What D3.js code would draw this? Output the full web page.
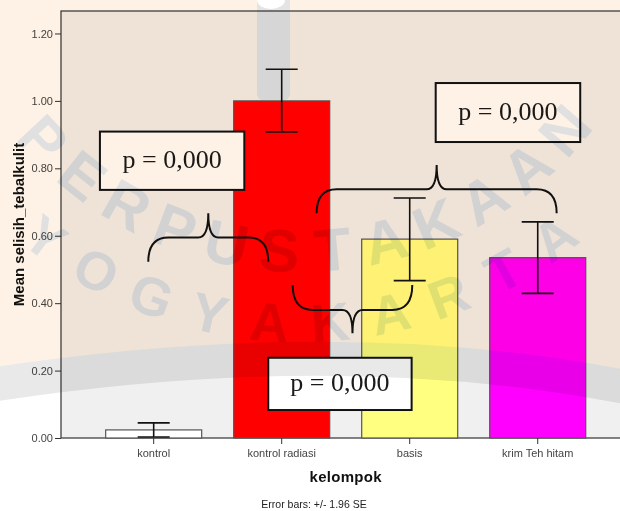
<!DOCTYPE html>
<html>
<head>
<meta charset="utf-8">
<script src="https://cdn.jsdelivr.net/npm/d3@7"></script>
<style>
  body { margin: 0; background: #fff; }
  #chart svg { display: block; }
</style>
</head>
<body>
<div id="chart"></div>
<script>
"use strict";

// chart data
const categories = ["kontrol", "kontrol radiasi", "basis", "krim Teh hitam"];
const means = [0.024, 1.000, 0.590, 0.535];
const ciLow = [0.003, 0.908, 0.467, 0.429];
const ciHigh = [0.045, 1.094, 0.712, 0.641];
const barColors = ["#ffffff", "#ff0000", "#ffff80", "#ff00ff"];
const yTicks = [0, 0.2, 0.4, 0.6, 0.8, 1.0, 1.2];

// annotations: x in category steps from the first bar, y in data units
const braceX0 = [-0.042, 1.273, 1.086];
const braceX1 = [0.895, 3.148, 2.020];
const braceEnd = [0.523, 0.667, 0.454];
const braceMid = [0.595, 0.738, 0.380];
const braceTip = [0.667, 0.810, 0.311];

const boxX0 = [-0.420, 2.203, 0.895];
const boxX1 = [0.708, 3.332, 2.015];
const boxTop = [0.909, 1.053, 0.238];
const boxBottom = [0.736, 0.878, 0.083];
const boxLabels = ["p = 0,000", "p = 0,000", "p = 0,000"];

// watermark words (library stamp behind the chart)
const stampWords = ["PERPUSTAKAAN", "YOGYAKARTA"];

function draw() {
    let width = 620;
    let height = 511;
    let margin = { top: 11, left: 61, bottom: 438 };

    let svg = d3.select("#chart").append("svg")
        .attr("width", width)
        .attr("height", height)
        .style("font-family", "'Liberation Sans', Arial, sans-serif");

    // scales
    let x = d3.scaleBand()
        .domain(categories)
        .range([margin.left, 630.4])
        .paddingInner(0.25)
        .paddingOuter(0.349);

    let y = d3.scaleLinear()
        .domain([0, 1.2667])
        .range([margin.bottom, margin.top]);

    let step = x.step();
    let firstCenter = x(categories[0]) + x.bandwidth() / 2;
    let xPos = t => firstCenter + t * step;

    // plot frame
    svg.append("rect")
        .attr("x", margin.left)
        .attr("y", margin.top)
        .attr("width", 700)
        .attr("height", margin.bottom - margin.top)
        .attr("fill", "#f0f0f0")
        .attr("stroke", "#333")
        .attr("stroke-width", 1.2);

    // bars
    svg.selectAll(".bar")
        .data(categories)
        .enter()
        .append("rect")
        .attr("class", "bar")
        .attr("x", d => x(d))
        .attr("width", x.bandwidth())
        .attr("y", (d, i) => y(means[i]))
        .attr("height", (d, i) => y(0) - y(means[i]))
        .attr("fill", (d, i) => barColors[i])
        .attr("stroke", "#555")
        .attr("stroke-width", 1.2);

    // error bars
    let capHalf = x.bandwidth() / 6;
    let err = svg.selectAll(".err")
        .data(categories)
        .enter()
        .append("g")
        .attr("class", "err")
        .attr("stroke", "#111")
        .attr("stroke-width", 1.6);
    err.append("line")
        .attr("x1", d => x(d) + x.bandwidth() / 2)
        .attr("x2", d => x(d) + x.bandwidth() / 2)
        .attr("y1", (d, i) => y(ciLow[i]))
        .attr("y2", (d, i) => y(ciHigh[i]));
    err.append("line")
        .attr("x1", d => x(d) + x.bandwidth() / 2 - capHalf)
        .attr("x2", d => x(d) + x.bandwidth() / 2 + capHalf)
        .attr("y1", (d, i) => y(ciHigh[i]))
        .attr("y2", (d, i) => y(ciHigh[i]));
    err.append("line")
        .attr("x1", d => x(d) + x.bandwidth() / 2 - capHalf)
        .attr("x2", d => x(d) + x.bandwidth() / 2 + capHalf)
        .attr("y1", (d, i) => y(ciLow[i]))
        .attr("y2", (d, i) => y(ciLow[i]));

    // axes
    let yAxis = d3.axisLeft(y)
        .tickValues(yTicks)
        .tickFormat(d3.format(".2f"))
        .tickSizeInner(6)
        .tickSizeOuter(0)
        .tickPadding(2);
    let gy = svg.append("g")
        .attr("transform", "translate(" + margin.left + ",0)")
        .call(yAxis);
    gy.select(".domain").remove();
    gy.selectAll("line").attr("stroke", "#333");
    gy.selectAll("text")
        .attr("fill", "#444")
        .style("font-size", "11px")
        .style("font-family", "'Liberation Sans', Arial, sans-serif");

    let xAxis = d3.axisBottom(x)
        .tickSizeInner(6)
        .tickSizeOuter(0)
        .tickPadding(5);
    let gx = svg.append("g")
        .attr("transform", "translate(0," + margin.bottom + ")")
        .call(xAxis);
    gx.select(".domain").remove();
    gx.selectAll("line").attr("stroke", "#333");
    gx.selectAll("text")
        .attr("fill", "#444")
        .style("font-size", "11px")
        .style("font-family", "'Liberation Sans', Arial, sans-serif");

    // axis titles
    svg.append("text")
        .attr("transform", "translate(24," + ((margin.top + margin.bottom) / 2) + ") rotate(-90)")
        .attr("text-anchor", "middle")
        .style("font-size", "15px")
        .style("font-weight", "bold")
        .attr("fill", "#111")
        .text("Mean selisih_tebalkulit");

    svg.append("text")
        .attr("x", firstCenter + 1.5 * step)
        .attr("y", 482)
        .attr("text-anchor", "middle")
        .style("font-size", "15px")
        .style("font-weight", "bold")
        .style("letter-spacing", "0.3px")
        .attr("fill", "#111")
        .text("kelompok");

    svg.append("text")
        .attr("x", 314)
        .attr("y", 508)
        .attr("text-anchor", "middle")
        .style("font-size", "10.5px")
        .attr("fill", "#222")
        .text("Error bars: +/- 1.96 SE");

    // p-value boxes
    boxLabels.forEach((label, i) => {
        let bx0 = xPos(boxX0[i]);
        let bx1 = xPos(boxX1[i]);
        let by0 = y(boxTop[i]);
        let by1 = y(boxBottom[i]);
        svg.append("rect")
            .attr("x", bx0)
            .attr("y", by0)
            .attr("width", bx1 - bx0)
            .attr("height", by1 - by0)
            .attr("fill", "#ffffff")
            .attr("stroke", "#111")
            .attr("stroke-width", 2);
        svg.append("text")
            .attr("x", (bx0 + bx1) / 2)
            .attr("y", (by0 + by1) / 2 + 7.5)
            .attr("text-anchor", "middle")
            .style("font-family", "'Liberation Serif', 'Times New Roman', serif")
            .style("font-size", "26px")
            .attr("fill", "#1a1a1a")
            .text(label);
    });

    // curly braces
    braceX0.forEach((t0, i) => {
        let x0 = xPos(t0);
        let x1 = xPos(braceX1[i]);
        let xm = (x0 + x1) / 2;
        let ye = y(braceEnd[i]);
        let ym = y(braceMid[i]);
        let yt = y(braceTip[i]);
        let r = 20;
        let r2 = 10;
        let path = d3.path();
        path.moveTo(x0, ye);
        path.quadraticCurveTo(x0, ym, x0 + r, ym);
        path.lineTo(xm - r2, ym);
        path.quadraticCurveTo(xm, ym, xm, yt);
        path.quadraticCurveTo(xm, ym, xm + r2, ym);
        path.lineTo(x1 - r, ym);
        path.quadraticCurveTo(x1, ym, x1, ye);
        svg.append("path")
            .attr("d", path.toString())
            .attr("fill", "none")
            .attr("stroke", "#111")
            .attr("stroke-width", 2);
    });

    // library watermark, multiplied over the whole chart
    let wm = svg.append("g")
        .attr("class", "watermark")
        .style("mix-blend-mode", "multiply")
        .style("pointer-events", "none");
    wm.append("path")
        .attr("d", "M-10,-10 H640 V390 Q350,330 -10,385 Z")
        .attr("fill", "#fef1e5");
    wm.append("path")
        .attr("d", "M-10,385 Q350,330 640,390")
        .attr("fill", "none")
        .attr("stroke", "#e9e9e9")
        .attr("stroke-width", 34);
    wm.append("rect")
        .attr("x", 257).attr("y", -10)
        .attr("width", 33).attr("height", 110)
        .attr("rx", 6)
        .attr("fill", "#e4e4e4");
    wm.append("ellipse")
        .attr("cx", 271).attr("cy", 0)
        .attr("rx", 14).attr("ry", 9)
        .attr("fill", "#ffffff");

    // stamp letters set one by one around a circle centred above the chart
    let stampCx = 300, stampCy = -100;
    let rings = [
        { word: stampWords[0], r: 372, a0: 137, a1: 41, size: 60 },
        { word: stampWords[1], r: 442, a0: 127, a1: 53, size: 54 }
    ];
    rings.forEach(ring => {
        let letters = ring.word.split("");
        let da = (ring.a0 - ring.a1) / (letters.length - 1);
        wm.selectAll(null)
            .data(letters)
            .enter()
            .append("text")
            .attr("transform", (d, k) => {
                let a = ring.a0 - k * da;
                let px = stampCx + ring.r * Math.cos(a * Math.PI / 180);
                let py = stampCy + ring.r * Math.sin(a * Math.PI / 180);
                return "translate(" + px + "," + py + ") rotate(" + (a - 90) + ")";
            })
            .attr("text-anchor", "middle")
            .style("font-size", ring.size + "px")
            .style("font-weight", "bold")
            .attr("fill", "#e0e0e0")
            .text(d => d);
    });
}

draw();
</script>
</body>
</html>
